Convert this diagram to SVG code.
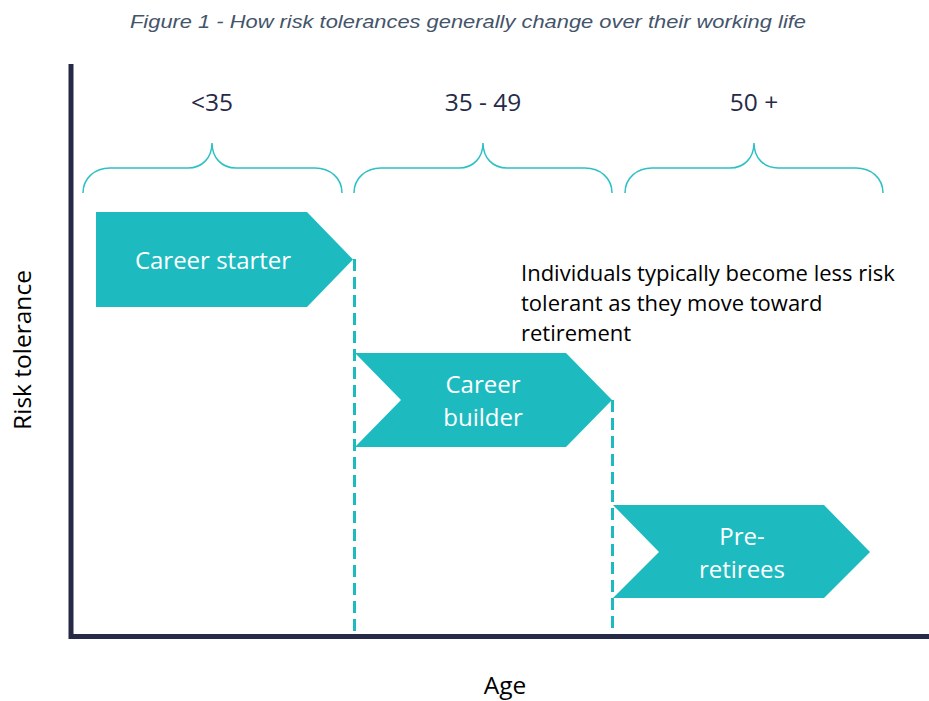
<svg xmlns="http://www.w3.org/2000/svg" width="929" height="701" viewBox="0 0 929 701">
<style>
.title{font-family:"Liberation Sans",Arial,sans-serif;font-style:italic;font-size:18px;fill:#44546A}
.lbl{font-family:"Open Sans","Noto Sans",sans-serif;font-size:24.5px;fill:#262A47}
.ax{font-family:"Open Sans","Noto Sans",sans-serif;font-size:24.5px;fill:#000}
.note{font-family:"Open Sans","Noto Sans",sans-serif;font-size:22px;fill:#000}
.nt{font-family:"Open Sans","Noto Sans",sans-serif;font-size:24px;fill:#fff;text-anchor:middle}
.shape{fill:#1DBBC0}
.brace{fill:none;stroke:#2DC0C6;stroke-width:1.5}
.dash{stroke:#1DBBC0;stroke-width:3;stroke-dasharray:12 6;fill:none}
.axis{stroke:#262A47;stroke-width:5;fill:none}
</style>
<rect width="929" height="701" fill="#fff"/>
<text class="title" x="468" y="28" text-anchor="middle" textLength="676" lengthAdjust="spacingAndGlyphs">Figure 1 - How risk tolerances generally change over their working life</text>
<g id="axes">
<line class="axis" x1="71" y1="64" x2="71" y2="639"/>
<line class="axis" x1="69" y1="636.5" x2="929" y2="636.5"/>
</g>
<text class="ax" transform="translate(31,350) rotate(-90)" text-anchor="middle">Risk tolerance</text>
<text class="ax" x="505" y="694" text-anchor="middle">Age</text>
<g id="braces">
<path class="brace" d="M83,193 C83,178 95,168 110,168 L188,168 C202,168 212,158 212,143 C212,158 222,168 236,168 L315,168 C330,168 342,178 342,193"/>
<path class="brace" d="M354,193 C354,178 366,168 381,168 L459,168 C473,168 483,158 483,143 C483,158 493,168 507,168 L585,168 C600,168 612,178 612,193"/>
<path class="brace" d="M625,193 C625,178 637,168 652,168 L730,168 C744,168 754,158 754,143 C754,158 764,168 778,168 L856,168 C871,168 883,178 883,193"/>
</g>
<text class="lbl" x="212" y="111" text-anchor="middle">&lt;35</text>
<text class="lbl" x="483" y="111" text-anchor="middle">35 - 49</text>
<text class="lbl" x="754" y="111" text-anchor="middle">50 +</text>
<g id="connectors">
<line class="dash" x1="354.5" y1="259" x2="354.5" y2="634"/>
<line class="dash" x1="612.5" y1="400" x2="612.5" y2="634"/>
</g>
<g id="career-starter">
<polygon class="shape" points="96,212 307,212 353,259.5 307,307 96,307"/>
<text class="nt" x="213" y="269">Career starter</text>
</g>
<g id="career-builder">
<polygon class="shape" points="355,353 566,353 612,400 566,447 355,447 401,400"/>
<text class="nt" x="483" y="393">Career</text>
<text class="nt" x="483" y="426">builder</text>
</g>
<g id="pre-retirees">
<polygon class="shape" points="613,505 824,505 870,552 824,598 613,598 659,552"/>
<text class="nt" x="742" y="545">Pre-</text>
<text class="nt" x="742" y="578">retirees</text>
</g>
<g id="note">
<text class="note" x="521" y="281">Individuals typically become less risk</text>
<text class="note" x="521" y="311">tolerant as they move toward</text>
<text class="note" x="521" y="341">retirement</text>
</g>
</svg>
